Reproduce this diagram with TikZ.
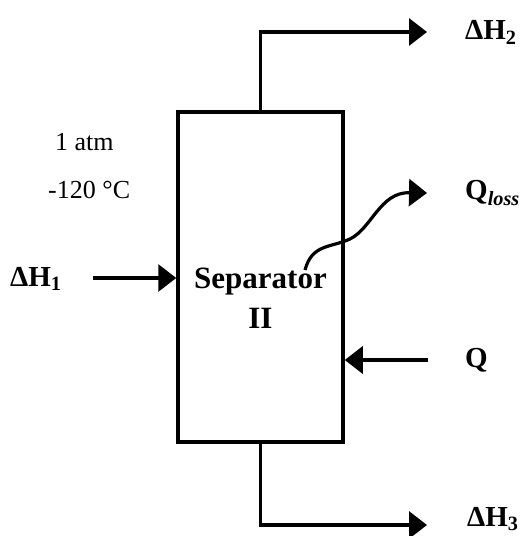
\documentclass[tikz,border=0pt]{standalone}
\usepackage{fontspec}
\setmainfont{Liberation Serif}
\usetikzlibrary{arrows.meta}
\tikzset{
  flow/.style={line width=3.2pt,-{Triangle[length=18pt,width=27pt]}},
  unit/.style={draw,line width=3.5pt,minimum width=165pt,minimum height=330pt,inner sep=0pt},
  lbl/.style={font=\fontsize{29}{32}\selectfont\bfseries,anchor=west,inner sep=0pt},
  cond/.style={font=\fontsize{26}{28}\selectfont,anchor=west,inner sep=0pt}
}
\begin{document}
\begin{tikzpicture}[x=1pt,y=-1pt]
\useasboundingbox (0,0) rectangle (525,536);
\node[unit] (box) at (260.5,277) {};
\node[font=\fontsize{31}{40}\selectfont\bfseries,align=center,inner sep=0pt] (name) at (260.5,298) {Separator\\II};
\node[cond] (p) at (55,142) {1 atm};
\node[cond] (t) at (48,190) {-120 °C};
\coordinate (h2) at (427,32);
\coordinate (h3) at (427,525);
\coordinate (h1s) at (93,278);
\coordinate (qs) at (428,360);
\coordinate (qa) at (305,270);
\coordinate (ql) at (427,193);
\draw[flow] (box.north) |- (h2);
\draw[flow] (box.south) |- (h3);
\draw[flow] (h1s) -- (h1s -| box.west);
\draw[flow] (qs) -- (qs -| box.east);
\draw[flow] (qa) .. controls (312,244) and (330,248) .. (350,239) .. controls (372,228) and (380,192) .. (ql);
\node[lbl] (lh2) at (465,32) {ΔH\textsubscript{2}};
\node[lbl] (lql) at (465,193) {Q\textsubscript{\itshape loss}};
\node[lbl] (lq) at (465,360) {Q};
\node[lbl] (lh1) at (10,279) {ΔH\textsubscript{1}};
\node[lbl] (lh3) at (467,519) {ΔH\textsubscript{3}};
\end{tikzpicture}
\end{document}
